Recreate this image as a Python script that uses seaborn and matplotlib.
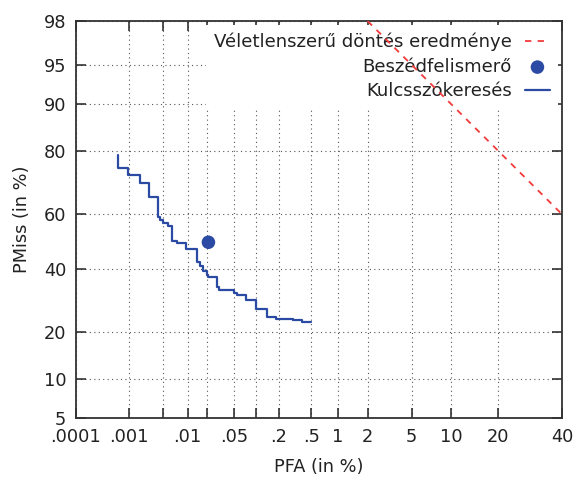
import numpy as np
import matplotlib
matplotlib.use('Agg')
import matplotlib.pyplot as plt
import seaborn as sns
from statistics import NormalDist

# DET curve data (values in %)
pfa_kw = [0.00063, 0.00096, 0.0016, 0.0023, 0.0032, 0.0035, 0.0040, 0.0048, 0.0056, 0.0067,
          0.0094, 0.0139, 0.0155, 0.0175, 0.0201, 0.0208, 0.0281, 0.030, 0.0495, 0.055,
          0.0735, 0.10, 0.144, 0.188, 0.30, 0.394, 0.50]
pmiss_kw = [79.0, 75.4, 73.2, 70.6, 66.2, 59.1, 58.0, 56.9, 55.8, 50.2,
            49.3, 47.2, 42.5, 41.0, 39.2, 37.8, 36.9, 33.6, 32.6, 31.5,
            30.8, 29.3, 26.5, 24.0, 23.4, 23.1, 22.7]

# speech recognizer operating point
pfa_asr = [0.021]
pmiss_asr = [49.7]

# random decision line: PMiss = 100 - PFA
pfa_rand = [2, 5, 10, 20, 40]
pmiss_rand = [98, 95, 90, 80, 60]

xticks = [0.0001, 0.001, 0.004, 0.01, 0.02, 0.05, 0.1, 0.2, 0.5, 1, 2, 5, 10, 20, 40]
xticklabels = ['.0001', '.001', '', '.01', '', '.05', '', '.2', '.5', '1', '2', '5', '10', '20', '40']
yticks = [5, 10, 20, 40, 60, 80, 90, 95, 98]
yticklabels = ['5', '10', '20', '40', '60', '80', '90', '95', '98']

labels = ['Véletlenszerű döntés eredménye', 'Beszédfelismerő', 'Kulcsszókeresés']

_nd = NormalDist()
_ppf = np.vectorize(_nd.inv_cdf, otypes=[float])
_cdf = np.vectorize(_nd.cdf, otypes=[float])


def probit(p):
    p = np.clip(np.asarray(p, dtype=float) / 100.0, 1e-12, 1 - 1e-12)
    return _ppf(p)


def inv_probit(z):
    return _cdf(np.asarray(z, dtype=float)) * 100.0


sns.set_style('ticks')
plt.rcParams['font.family'] = ['DejaVu Sans']
fs = 12.8

fig, ax = plt.subplots(figsize=(5.74, 4.79), dpi=100)
fig.subplots_adjust(left=76/574, right=562/574, top=1-21/479, bottom=1-418/479)

ax.set_xscale('function', functions=(probit, inv_probit))
ax.set_yscale('function', functions=(probit, inv_probit))

red = ax.plot(pfa_rand, pmiss_rand, color='#f23a3a', lw=1.3,
              linestyle=(0, (3.5, 3.5)), zorder=3)[0]
sns.scatterplot(x=pfa_asr, y=pmiss_asr, ax=ax, color='#2b4aa3', s=95,
                edgecolor='none', zorder=4)
blue = sns.lineplot(x=pfa_kw, y=pmiss_kw, ax=ax, color='#2b4aa3', lw=1.6,
                    drawstyle='steps-pre', estimator=None, sort=False, zorder=4).lines[-1]
dot = ax.collections[-1]

ax.set_xlim(0.0001, 40)
ax.set_ylim(5, 98)
ax.set_xticks(xticks, labels=xticklabels)
ax.set_yticks(yticks, labels=yticklabels)
ax.minorticks_off()

ax.tick_params(direction='in', top=True, right=True, length=7, width=1.1,
               color='#222222', labelsize=fs, pad=7, labelcolor='#222222')
for s in ax.spines.values():
    s.set_linewidth(1.3)
    s.set_color('#333333')
    s.set_visible(True)

ax.set_axisbelow(True)
ax.grid(True, linestyle=(0, (1, 3)), color='#555555', lw=0.8)

ax.set_xlabel('PFA (in %)', fontsize=fs, color='#222222', labelpad=9)
ax.set_ylabel('PMiss (in %)', fontsize=fs, color='#222222', labelpad=9)

leg = ax.legend([red, dot, blue], labels, loc='upper right', fontsize=13.1,
                markerfirst=False, frameon=True, facecolor='white', edgecolor='none',
                framealpha=1, fancybox=False, borderaxespad=0.2, borderpad=0.45,
                labelspacing=0.36, handlelength=1.4, handletextpad=0.7)
leg.set_zorder(2.5)
for t in leg.get_texts():
    t.set_color('#222222')

fig.savefig('out.png', dpi=100)
